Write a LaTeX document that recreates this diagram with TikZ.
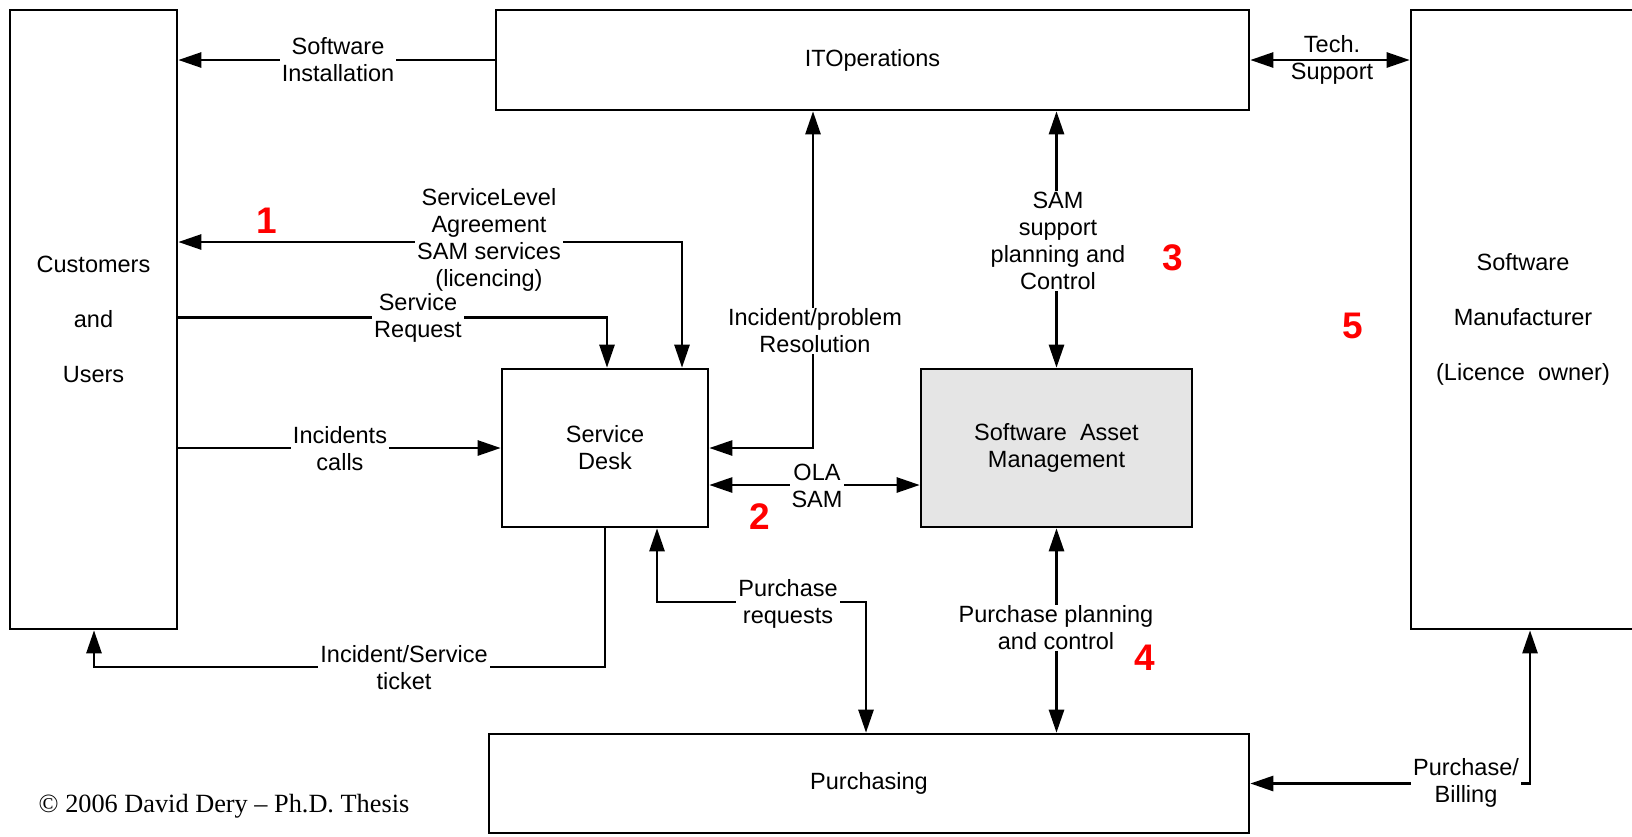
\documentclass[tikz,border=0pt]{standalone}
\usepackage{fontspec}
\setmainfont{Liberation Sans}
\newfontfamily\cpfont{Liberation Serif}
\usetikzlibrary{arrows.meta}
\definecolor{samgray}{RGB}{229,229,229}
\begin{document}
\begin{tikzpicture}[x=1pt,y=-1pt,
  every node/.style={font=\fontsize{23.5}{27}\selectfont},
  box/.style={draw, line width=2.6pt, align=center, inner sep=0pt},
  conn/.style={line width=2.6pt},
  tip/.style={conn,-{Triangle[length=23pt,width=15pt]}},
  tips/.style={conn,{Triangle[length=23pt,width=15pt]}-{Triangle[length=23pt,width=15pt]}},
  lbl/.style={fill=white, align=center, inner xsep=2pt, inner ysep=1pt},
  lblnf/.style={align=center, inner sep=1pt},
  num/.style={text=red, font=\fontsize{37}{40}\selectfont\bfseries}]
\useasboundingbox (0,0) rectangle (1632,836);

% boxes
\node[box, minimum width=167pt, minimum height=619pt] (cust) at (93.5,319.5) {Customers\\[28pt]and\\[28pt]Users};
\node[box, minimum width=753pt, minimum height=100pt] (itops) at (872.5,60) {ITOperations};
\node[box, minimum width=224pt, minimum height=619pt] (sm) at (1523,319.5) {Software\\[28pt]Manufacturer\\[28pt](Licence\ \ owner)};
\node[box, minimum width=206pt, minimum height=158pt] (sd) at (605,448) {Service\\Desk};
\node[box, fill=samgray, minimum width=271pt, minimum height=158pt] (sam) at (1056.5,448) {Software\ \ Asset\\Management};
\node[box, minimum width=760pt, minimum height=99pt] (purch) at (869,783.5) {Purchasing};

% helper coordinates
\coordinate (slac) at (682,242);
\coordinate (src) at (607,317.5);
\coordinate (tk) at (94,667);
\coordinate (res) at (813,448);
\coordinate (ola) at (817,485);
\coordinate (pr1) at (657,602);
\coordinate (pr2) at (866,602);
\coordinate (pb) at (1530,783.5);

% connectors
\draw[tip] (itops.west) -- (cust.east |- itops.west);
\draw[tips] (itops.east) -- (sm.west |- itops.east);
\draw[tips] (cust.east |- slac) -- (slac) -- (slac |- sd.north);
\draw[tip] (cust.east |- src) -- (src) -- (src |- sd.north);
\draw[tip] (cust.east |- sd.west) -- (sd.west);
\draw[tip] (sd.south) -- (sd.south |- tk) -- (tk) -- (tk |- cust.south);
\draw[tips] (sd.east) -- (res) -- (res |- itops.south);
\draw[tips] (sd.east |- ola) -- (sam.west |- ola);
\draw[tips] (itops.south -| sam.north) -- (sam.north);
\draw[tips] (pr1 |- sd.south) -- (pr1) -- (pr2) -- (pr2 |- purch.north);
\draw[tips] (sam.south) -- (sam.south |- purch.north);
\draw[tips] (purch.east |- pb) -- (pb) -- (pb |- sm.south);

% labels
\node[lbl] (l1) at (338,60) {Software\\Installation};
\node[lblnf] (l2) at (1332,60) {Tech.\\Support};
\node[lbl] (l3) at (489,240) {ServiceLevel\\Agreement\\SAM services\\(licencing)};
\node[lbl] (l4) at (418,318) {Service\\Request};
\node[lbl] (l5) at (340,449) {Incidents\\calls};
\node[lbl] (l6) at (404,668) {Incident/Service\\ticket};
\node[lbl] (l7) at (815,331) {Incident/problem\\Resolution};
\node[lbl] (l8) at (817,486) {OLA\\SAM};
\node[lbl] (l9) at (1058,241) {SAM\\support\\planning and\\Control};
\node[lbl] (l10) at (788,604) {Purchase\\requests};
\node[lbl] (l11) at (1056,628) {Purchase planning\\and control};
\node[lbl] (l12) at (1466,783) {Purchase/\\Billing};

% numbers
\node[num] (n1) at (267,221) {1};
\node[num] (n2) at (760,517) {2};
\node[num] (n3) at (1173,258) {3};
\node[num] (n4) at (1145,658) {4};
\node[num] (n5) at (1353,326) {5};

% copyright
\node[font=\cpfont\fontsize{26.3}{29}\selectfont] (cp) at (224,806) {© 2006 David Dery – Ph.D. Thesis};
\end{tikzpicture}
\end{document}
